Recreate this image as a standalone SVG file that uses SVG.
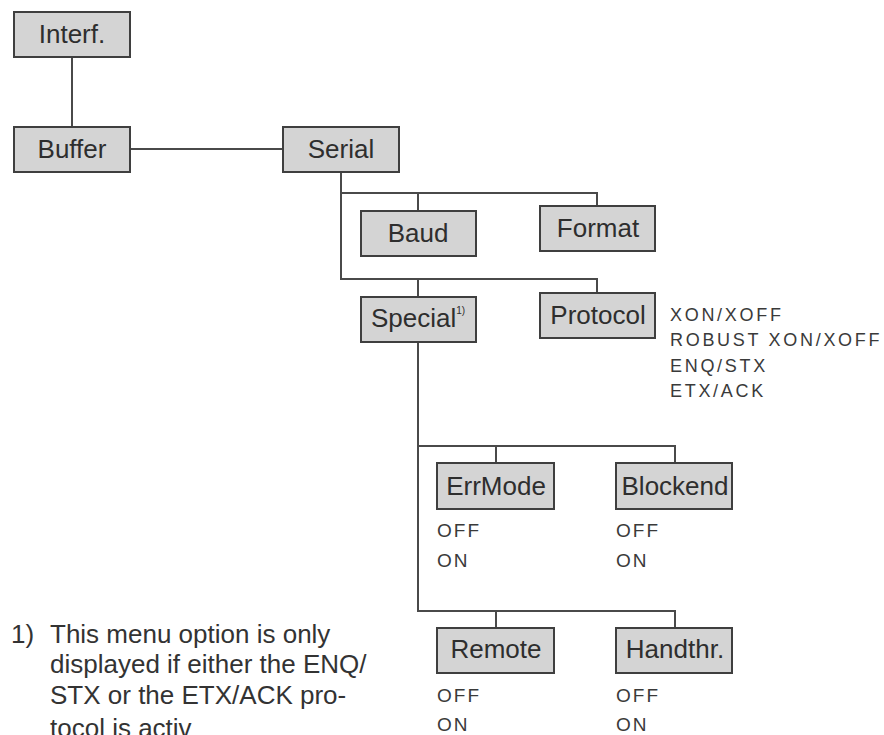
<svg xmlns="http://www.w3.org/2000/svg" width="884" height="735" viewBox="0 0 884 735">
<style>
.box{fill:#d4d4d4;stroke:#3f3f3f;stroke-width:2}
.lbl{font-family:"Liberation Sans",Arial,sans-serif;font-size:26px;fill:#2e2e2e;text-anchor:middle}
.sup{font-size:10px}
.opt{font-family:"Liberation Sans",Arial,sans-serif;font-size:18px;fill:#3a3a3a;letter-spacing:2.7px}
.oo{font-family:"Liberation Sans",Arial,sans-serif;font-size:19px;fill:#3a3a3a;letter-spacing:2px}
.note{font-family:"Liberation Sans",Arial,sans-serif;font-size:26px;fill:#333}
.con{fill:none;stroke:#4a4a4a;stroke-width:2}
</style>
<rect width="884" height="735" fill="#ffffff"/>
<g id="connectors" class="con">
<path d="M72 57V127"/>
<path d="M130 149H283"/>
<path d="M341 172V279H597V293"/>
<path d="M341 193H597V206"/>
<path d="M418 193V211"/>
<path d="M418 279V297"/>
<path d="M418 342V611H675V628"/>
<path d="M418 446H675V463"/>
<path d="M496 446V463"/>
<path d="M496 611V628"/>
</g>
<g id="interf"><rect class="box" x="14" y="12" width="116" height="45"/><text class="lbl" x="72" y="43">Interf.</text></g>
<g id="buffer"><rect class="box" x="14" y="127" width="116" height="45"/><text class="lbl" x="72" y="158">Buffer</text></g>
<g id="serial"><rect class="box" x="283" y="127" width="116" height="45"/><text class="lbl" x="341" y="158">Serial</text></g>
<g id="baud"><rect class="box" x="361" y="211" width="115" height="45"/><text class="lbl" x="418" y="242">Baud</text></g>
<g id="format"><rect class="box" x="540" y="206" width="115" height="45"/><text class="lbl" x="598" y="237">Format</text></g>
<g id="special"><rect class="box" x="361" y="297" width="115" height="45"/><text class="lbl" x="418" y="327">Special<tspan class="sup" dy="-13">1)</tspan></text></g>
<g id="protocol"><rect class="box" x="540" y="293" width="115" height="45"/><text class="lbl" x="598" y="324">Protocol</text>
<text class="opt" x="670" y="321">XON/XOFF</text>
<text class="opt" x="670" y="346">ROBUST XON/XOFF</text>
<text class="opt" x="670" y="372">ENQ/STX</text>
<text class="opt" x="670" y="397">ETX/ACK</text></g>
<g id="errmode"><rect class="box" x="437" y="463" width="117" height="46"/><text class="lbl" x="496" y="495">ErrMode</text>
<text class="oo" x="437" y="537">OFF</text><text class="oo" x="437" y="567">ON</text></g>
<g id="blockend"><rect class="box" x="616" y="463" width="116" height="46"/><text class="lbl" x="675" y="495">Blockend</text>
<text class="oo" x="616" y="537">OFF</text><text class="oo" x="616" y="567">ON</text></g>
<g id="remote"><rect class="box" x="437" y="628" width="117" height="45"/><text class="lbl" x="496" y="658">Remote</text>
<text class="oo" x="437" y="702">OFF</text><text class="oo" x="437" y="731">ON</text></g>
<g id="handthr"><rect class="box" x="616" y="628" width="116" height="45"/><text class="lbl" x="675" y="658">Handthr.</text>
<text class="oo" x="616" y="702">OFF</text><text class="oo" x="616" y="731">ON</text></g>
<g id="footnote" class="note">
<text x="11" y="643">1)</text>
<text x="50" y="643">This menu option is only</text>
<text x="50" y="673">displayed if either the ENQ/</text>
<text x="50" y="704">STX or the ETX/ACK pro-</text>
<text x="50" y="737">tocol is activ</text>
</g>
</svg>
